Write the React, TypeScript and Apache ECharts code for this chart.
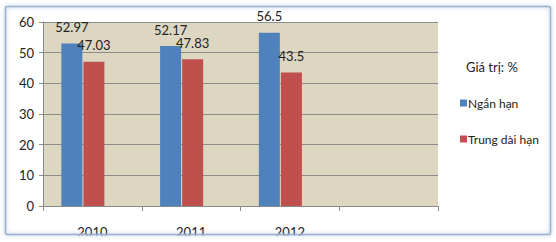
import React, { useEffect, useRef } from "react";
import * as echarts from "echarts";

const categories = ["2010", "2011", "2012", ""];
const shortTerm = [52.97, 52.17, 56.5];
const longTerm = [47.03, 47.83, 43.5];
const seriesNames = ["Ngắn hạn", "Trung dài hạn"];
const unitTitle = "Giá trị: %";

const FONT = "Lato, sans-serif";
const FS = 13;

export default function App() {
  const ref = useRef<HTMLDivElement>(null);
  useEffect(() => {
    document.body.style.margin = "0";
    const chart = echarts.init(ref.current!, null, { renderer: "svg" });
    const labelStyle = {
      show: true,
      position: "top" as const,
      distance: 10,
      fontFamily: FONT,
      fontSize: FS,
      color: "#222",
    };
    chart.setOption({
      animation: false,
      backgroundColor: "#ffffff",
      textStyle: { fontFamily: FONT },
      grid: [
        { left: 43, right: 118, top: 22, bottom: 36, show: true, backgroundColor: "#DDD7C1", borderWidth: 0 },
        { left: 33.5, right: 127.5, top: 22, bottom: 36 },
      ],
      xAxis: [
        {
          type: "category",
          data: categories,
          gridIndex: 0,
          axisLine: { lineStyle: { color: "#8a8a8a" } },
          axisTick: { show: true, length: 5, lineStyle: { color: "#8a8a8a" } },
          axisLabel: { fontFamily: FONT, fontSize: FS, color: "#222", margin: 19 },
        },
        {
          type: "category",
          data: categories,
          gridIndex: 1,
          show: false,
        },
      ],
      yAxis: [
        {
          type: "value",
          gridIndex: 0,
          min: 0,
          max: 60,
          interval: 10,
          axisLine: { show: true, lineStyle: { color: "#8a8a8a" } },
          axisTick: { show: true, length: 4, lineStyle: { color: "#8a8a8a" } },
          splitLine: { lineStyle: { color: "#8c8c8c" } },
          axisLabel: { fontFamily: FONT, fontSize: FS, color: "#222", margin: 9 },
        },
        { type: "value", gridIndex: 1, min: 0, max: 60, interval: 10, show: false },
      ],
      legend: {
        orient: "vertical",
        left: 455,
        top: 92,
        itemWidth: 7,
        itemHeight: 7,
        itemGap: 24,
        icon: "rect",
        textStyle: { fontFamily: FONT, fontSize: 12, color: "#222", padding: [0, 0, 0, -4] },
        data: seriesNames,
      },
      title: {
        text: unitTitle,
        left: 461,
        top: 55,
        textStyle: { fontFamily: FONT, fontSize: FS, fontWeight: "normal", color: "#222" },
      },
      series: [
        {
          name: seriesNames[0],
          type: "bar",
          xAxisIndex: 1,
          yAxisIndex: 1,
          data: shortTerm,
          barWidth: 21,
          barGap: "5%",
          itemStyle: { color: "#4F81BD" },
          label: labelStyle,
        },
        {
          name: seriesNames[1],
          type: "bar",
          xAxisIndex: 1,
          yAxisIndex: 1,
          data: longTerm,
          barWidth: 21,
          barGap: "5%",
          itemStyle: { color: "#C0504D" },
          label: labelStyle,
        },
      ],
      graphic: [
        {
          type: "rect",
          z: 100,
          silent: true,
          shape: { x: 0, y: 235.5, width: 556, height: 8 },
          style: { fill: "#ffffff" },
        },
        {
          type: "rect",
          z: 101,
          silent: true,
          shape: { x: 5.5, y: 6.5, width: 545, height: 228, r: 2 },
          style: {
            fill: "none",
            stroke: "#9AAFCB",
            lineWidth: 1.5,
            shadowBlur: 4,
            shadowColor: "rgba(120,160,215,0.7)",
          },
        },
      ],
    });
    return () => chart.dispose();
  }, []);
  return <div ref={ref} style={{ position: "fixed", left: 0, top: 0, width: 556, height: 242 }} />;
}
